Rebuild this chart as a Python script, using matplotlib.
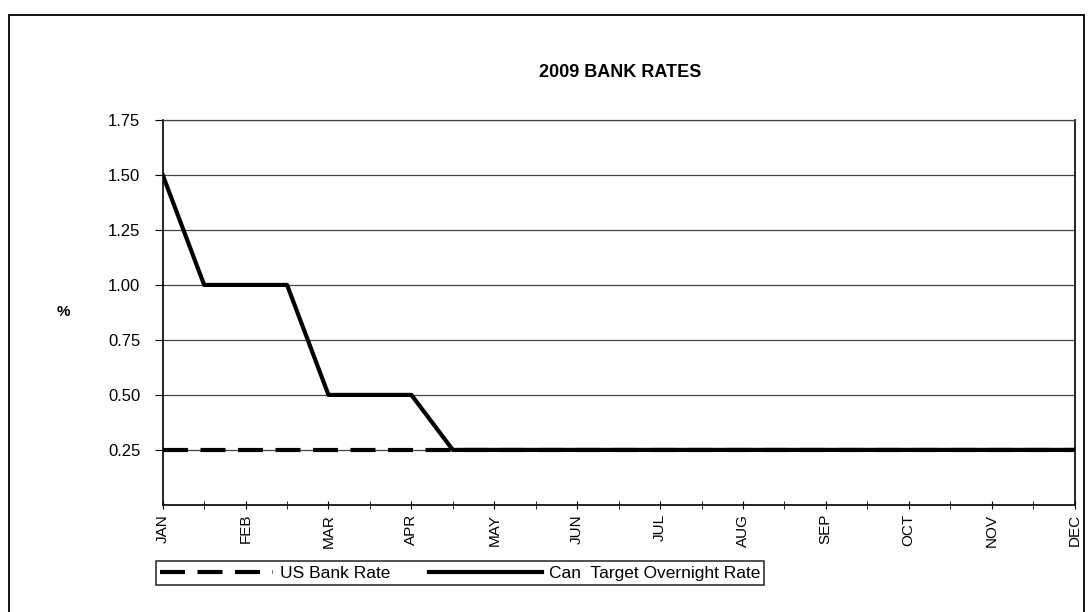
import matplotlib.pyplot as plt
import numpy as np
from matplotlib.patches import Rectangle

# data, half-month steps from JAN to DEC
months = ["JAN", "FEB", "MAR", "APR", "MAY", "JUN", "JUL", "AUG", "SEP", "OCT", "NOV", "DEC"]
steps = [i / 2 for i in range(23)]
us_rate = [0.25] * 23
can_rate = [1.50, 1.00, 1.00, 1.00, 0.50, 0.50, 0.50, 0.25, 0.25, 0.25, 0.25, 0.25,
            0.25, 0.25, 0.25, 0.25, 0.25, 0.25, 0.25, 0.25, 0.25, 0.25, 0.25]
y_ticks = [0.25, 0.50, 0.75, 1.00, 1.25, 1.50, 1.75]

plt.rcParams['font.family'] = ['Liberation Sans', 'DejaVu Sans']

fig = plt.figure(figsize=(10.92, 6.12), dpi=100)
ax = fig.add_axes([0.149, 0.175, 0.835, 0.629])

ax.plot(steps, us_rate, color="black", lw=3, dashes=(6, 3), label="US Bank Rate")
ax.plot(steps, can_rate, color="black", lw=3, label="Can  Target Overnight Rate")

ax.set_xlim(0, 11)
ax.set_ylim(0, 1.75)
ax.set_yticks(y_ticks)
ax.set_yticklabels(["%.2f" % v for v in y_ticks], fontsize=12)
ax.yaxis.grid(True, color="#444444", lw=0.9)
ax.set_xticks(range(12))
ax.set_xticklabels(months, rotation=90, fontsize=11)
ax.set_xticks(steps[1::2], minor=True)
ax.tick_params(axis="x", which="both", direction="inout", length=6)
ax.tick_params(axis="y", length=6, pad=10)
for s in ax.spines.values():
    s.set_color("black")
    s.set_linewidth(1.2)
ax.spines["top"].set_color("#444444")
ax.spines["top"].set_linewidth(0.9)

ax.set_ylabel("%", rotation=0, fontsize=11, fontweight="bold", labelpad=32, va="center")
fig.text(0.568, 0.882, "2009 BANK RATES", ha="center", va="center", fontsize=13, fontweight="bold")

leg = fig.legend(loc="lower left", bbox_to_anchor=(0.135, 0.03), ncol=2, frameon=True,
                 fancybox=False, edgecolor="black", fontsize=12.5, handlelength=6.5,
                 borderpad=0.25, columnspacing=2.2, handletextpad=0.4)
leg.get_frame().set_linewidth(1.2)

# outer chart border
fig.add_artist(Rectangle((0.008, -0.01), 0.985, 0.985, transform=fig.transFigure,
                         fill=False, edgecolor="black", lw=1.3))

plt.savefig("out.png")
